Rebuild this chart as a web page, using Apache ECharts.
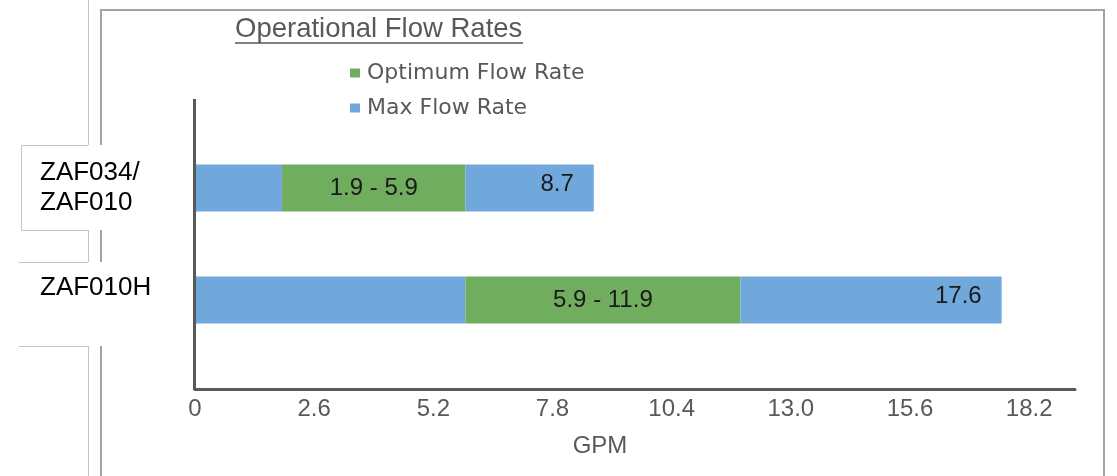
<!DOCTYPE html>
<html>
<head>
<meta charset="utf-8">
<script src="https://cdn.jsdelivr.net/npm/echarts@6/dist/echarts.min.js"></script>
<style>html,body{margin:0;padding:0;background:#fff}#c{width:1117px;height:476px}</style>
</head>
<body>
<div id="c"></div>
<script>
const categories = ['ZAF034/\nZAF010', 'ZAF010H'];
const optLow = [1.9, 5.9];
const optHigh = [5.9, 11.9];
const maxRate = [8.7, 17.6];
const xMin = 0, xMax = 19.2, xStep = 2.6;

const BLUE = '#70a8dc';
const GREEN = '#70ad5f';
const AXIS = '#595959';
const FONT = '"Liberation Sans", Arial, sans-serif';

const optWidth = optHigh.map((h, i) => +(h - optLow[i]).toFixed(2));
const maxWidth = maxRate.map((m, i) => +(m - optHigh[i]).toFixed(2));

const chart = echarts.init(document.getElementById('c'));
chart.setOption({
  animation: false,
  backgroundColor: '#fff',
  title: {
    text: 'Operational Flow Rates',
    left: 235, top: 15, padding: 0,
    textStyle: { fontFamily: FONT, fontSize: 27.5, fontWeight: 'normal', color: AXIS }
  },
  legend: {
    data: ['Optimum Flow Rate', 'Max Flow Rate'],
    orient: 'vertical',
    left: 350, top: 62, padding: 0,
    itemWidth: 10, itemHeight: 9, itemGap: 13,
    icon: 'rect',
    textStyle: { fontFamily: '"DejaVu Sans", sans-serif', fontSize: 22, color: AXIS, padding: [0, 0, 0, 2] }
  },
  grid: { left: 195, top: 132, width: 880, height: 224, containLabel: false },
  xAxis: {
    type: 'value', min: xMin, max: xMax, interval: xStep,
    offset: 33,
    name: 'GPM', nameLocation: 'middle', nameGap: 45,
    nameTextStyle: { fontFamily: FONT, fontSize: 24, color: AXIS, padding: [0, 70, 0, 0] },
    axisLine: { show: true, lineStyle: { color: AXIS, width: 3 } },
    axisTick: { show: false },
    splitLine: { show: false },
    axisLabel: {
      fontFamily: FONT, fontSize: 24, color: AXIS, margin: 8, showMaxLabel: false,
      formatter: v => (v === 0 ? '0' : v.toFixed(1))
    }
  },
  yAxis: {
    type: 'category', data: categories, inverse: true,
    axisLine: { show: false }, axisTick: { show: false },
    axisLabel: {
      margin: 155, align: 'left', fontFamily: FONT, fontSize: 26, color: '#000', lineHeight: 30,
      formatter: v => (v.indexOf('\n') < 0 ? '{h|' + v + '}' : v),
      rich: { h: { fontFamily: FONT, fontSize: 26, color: '#000', padding: [0, 0, 24, 0] } }
    }
  },
  series: [
    { name: 'Max Flow Rate', type: 'bar', stack: 't', barWidth: 47, data: optLow,
      itemStyle: { color: BLUE } },
    { name: 'Optimum Flow Rate', type: 'bar', stack: 't', barWidth: 47, data: optWidth,
      itemStyle: { color: GREEN },
      label: { show: true, position: 'inside', fontFamily: FONT, fontSize: 24, color: '#1a1a1a',
        formatter: p => optLow[p.dataIndex] + ' - ' + optHigh[p.dataIndex] } },
    { name: 'Max Flow Rate', type: 'bar', stack: 't', barWidth: 47, data: maxWidth,
      itemStyle: { color: BLUE },
      label: { show: true, position: 'insideRight', distance: 20, offset: [0, -4], fontFamily: FONT, fontSize: 24, color: '#1a1a1a',
        formatter: p => String(maxRate[p.dataIndex]) } }
  ],
  graphic: { elements: [
    { type: 'line', z: -5, shape: { x1: 88.5, y1: 0, x2: 88.5, y2: 476 }, style: { stroke: '#c4c4c4', lineWidth: 1 } },
    { type: 'rect', z: -4, shape: { x: 101, y: 10, width: 1003, height: 480 }, style: { fill: 'none', stroke: '#a3a3a3', lineWidth: 2 } },
    { type: 'rect', z: -3, shape: { x: 21, y: 145, width: 165, height: 85 }, style: { fill: '#fff' } },
    { type: 'rect', z: -3, shape: { x: 0, y: 262, width: 186, height: 84 }, style: { fill: '#fff' } },
    { type: 'polyline', z: -2, shape: { points: [[88, 145.5], [21.5, 145.5], [21.5, 230.5], [88, 230.5]] }, style: { fill: 'none', stroke: '#c4c4c4', lineWidth: 1 } },
    { type: 'line', z: -2, shape: { x1: 19, y1: 262.5, x2: 88, y2: 262.5 }, style: { stroke: '#c4c4c4', lineWidth: 1 } },
    { type: 'line', z: -2, shape: { x1: 19, y1: 346.5, x2: 88, y2: 346.5 }, style: { stroke: '#c4c4c4', lineWidth: 1 } },
    { type: 'line', z: 5, shape: { x1: 194.5, y1: 99, x2: 194.5, y2: 390 }, style: { stroke: AXIS, lineWidth: 3 } },
    { type: 'line', z: 5, shape: { x1: 235, y1: 43, x2: 523, y2: 43 }, style: { stroke: AXIS, lineWidth: 1.5 } }
  ] }
});
</script>
</body>
</html>
